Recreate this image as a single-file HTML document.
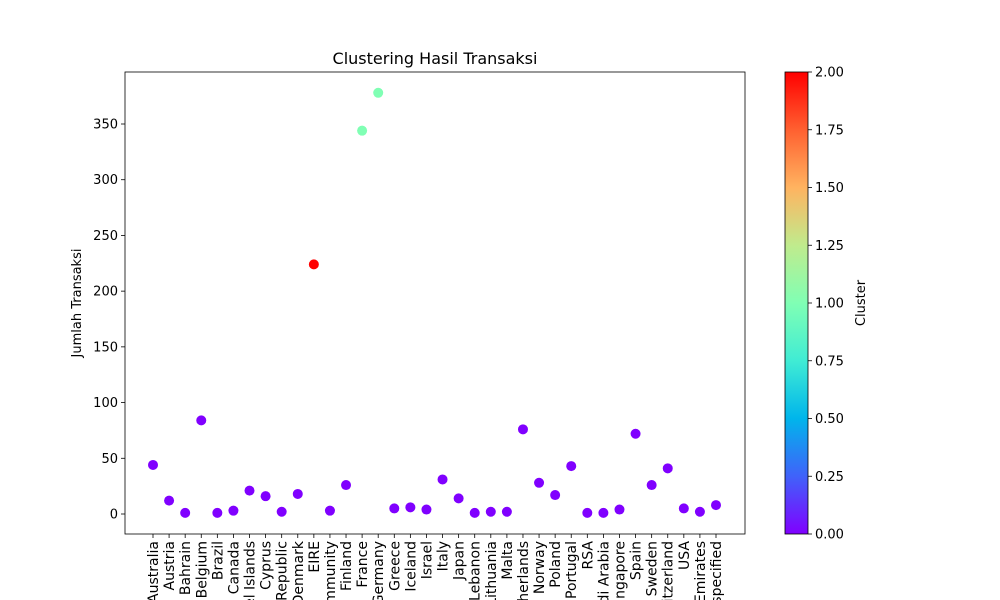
<!DOCTYPE html>
<html><head><meta charset="utf-8"><style>
html,body{margin:0;background:#fff;width:1000px;height:600px;overflow:hidden;}
svg{display:block;font-family:"DejaVu Sans","Liberation Sans",sans-serif;overflow:hidden;}
</style></head><body>
<svg id="chart" width="1000" height="600">
<defs><linearGradient id="rb" x1="0" y1="1" x2="0" y2="0">
<stop offset="0" stop-color="#8000ff"/><stop offset="0.125" stop-color="#4062fa"/><stop offset="0.25" stop-color="#00b5eb"/><stop offset="0.375" stop-color="#40ecd4"/><stop offset="0.5" stop-color="#80ffb4"/><stop offset="0.625" stop-color="#c0eb8d"/><stop offset="0.75" stop-color="#ffb360"/><stop offset="0.875" stop-color="#ff6030"/><stop offset="1" stop-color="#ff0000"/>
</linearGradient></defs>
<text x="435" y="64" font-size="16" text-anchor="middle">Clustering Hasil Transaksi</text>
<g id="plot"></g>
<rect x="785" y="72" width="23" height="462" fill="url(#rb)" stroke="#000" stroke-width="0.8"/>
<g id="cbar"></g>
<text transform="translate(865,303) rotate(-90)" font-size="13" text-anchor="middle">Cluster</text>
<text transform="translate(81,303) rotate(-90)" font-size="13" text-anchor="middle">Jumlah Transaksi</text>
</svg>
<script>
const countries=["Australia","Austria","Bahrain","Belgium","Brazil","Canada","Channel Islands","Cyprus","Czech Republic","Denmark","EIRE","European Community","Finland","France","Germany","Greece","Iceland","Israel","Italy","Japan","Lebanon","Lithuania","Malta","Netherlands","Norway","Poland","Portugal","RSA","Saudi Arabia","Singapore","Spain","Sweden","Switzerland","USA","United Arab Emirates","Unspecified"];
const transactions=[44,12,1,84,1,3,21,16,2,18,224,3,26,344,378,5,6,4,31,14,1,2,2,76,28,17,43,1,1,4,72,26,41,5,2,8];
const clusters=[0,0,0,0,0,0,0,0,0,0,2,0,0,1,1,0,0,0,0,0,0,0,0,0,0,0,0,0,0,0,0,0,0,0,0,0];
const yTicks=[0,50,100,150,200,250,300,350];
const cTicks=[0,0.25,0.5,0.75,1,1.25,1.5,1.75,2];
const NS="http://www.w3.org/2000/svg";
const L=125,R=745,T=72,B=534;
const x=i=>153+i*(716-153)/(countries.length-1);
const y=v=>514-v*(390/350);
const cy=c=>534-c*(462/2);
const col=c=>["#8000ff","#80ffb4","#ff0000"][c];
function mk(p,t,a){const e=document.createElementNS(NS,t);for(const k in a)e.setAttribute(k,a[k]);p.appendChild(e);return e;}
const g=document.getElementById('plot');
const frame=mk(g,'rect',{x:L,y:T,width:R-L,height:B-T,fill:'none',stroke:'#000','stroke-width':0.8});


yTicks.forEach(v=>{
 const t=mk(g,'line',{x1:L-4,x2:L,y1:y(v),y2:y(v),stroke:'#000','stroke-width':0.8});
 
 
 const l=mk(g,'text',{x:L-7,y:y(v)+4.5,'font-size':13,'text-anchor':'end'});l.textContent=v;
 
 
});
countries.forEach((c,i)=>{
 const t=mk(g,'line',{x1:x(i),x2:x(i),y1:B,y2:B+4,stroke:'#000','stroke-width':0.8});
 
 
 const l=mk(g,'text',{transform:`translate(${x(i)+5},${B+7}) rotate(-90)`,'font-size':14,'text-anchor':'end'});l.textContent=c;
 
 
 const p=mk(g,'circle',{cx:x(i),cy:y(transactions[i]),r:5,fill:col(clusters[i])});
 
 
});
const cb=document.getElementById('cbar');
cTicks.forEach(v=>{
 const t=mk(cb,'line',{x1:808,x2:812,y1:cy(v),y2:cy(v),stroke:'#000','stroke-width':0.8});
 
 
 const l=mk(cb,'text',{x:815,y:cy(v)+4.5,'font-size':13});l.textContent=v.toFixed(2);
 
 
});
</script>
</body></html>
